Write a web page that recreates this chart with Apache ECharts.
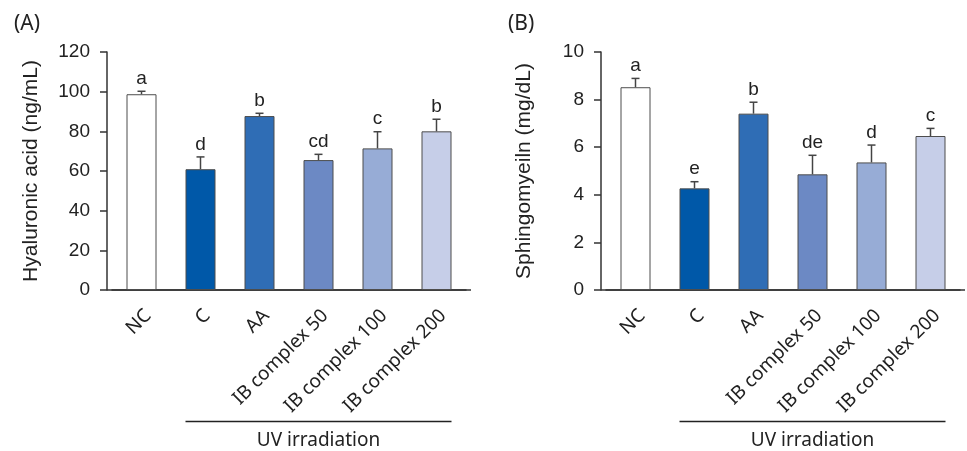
<!DOCTYPE html>
<html>
<head>
<meta charset="utf-8">
<script src="https://cdn.jsdelivr.net/npm/echarts@6/dist/echarts.min.js"></script>
<style>
    html, body { margin: 0; padding: 0; background: #fff; }
    #main { width: 967px; height: 451px; }
</style>
</head>
<body>
<div id="main"></div>
<script>
var categories = ['NC', 'C', 'AA', 'IB complex 50', 'IB complex 100', 'IB complex 200'];
var hyaluronic = [98.7, 60.9, 87.7, 65.5, 71.4, 80.0];
var hyaluronicSd = [1.5, 6.2, 1.4, 2.9, 8.4, 6.1];
var hyaluronicLetters = ['a', 'd', 'b', 'cd', 'c', 'b'];
var sphingo = [8.52, 4.27, 7.41, 4.86, 5.36, 6.47];
var sphingoSd = [0.37, 0.28, 0.48, 0.80, 0.73, 0.32];
var sphingoLetters = ['a', 'e', 'b', 'de', 'd', 'c'];
var barColors = ['#ffffff', '#0058a8', '#2f6db5', '#6c89c4', '#97acd6', '#c6cee8'];
var uvGroup = ['C', 'IB complex 200'];

var axisColor = '#333';
var textColor = '#222';
var numFont = 'Liberation Sans';
var labelFont = 'Noto Sans';
var grids = [
    {left: 112, top: 52, width: 354, height: 238},
    {left: 606, top: 52, width: 354, height: 238}
];
var barW = 30;

var mychart = echarts.init(document.getElementById('main'));

function barData(values) {
    return values.map(function (v, i) {
        return {
            value: v,
            itemStyle: {color: barColors[i]}
        };
    });
}

function errData(values, sd, letters) {
    return values.map(function (v, i) {
        return [i, v, sd[i], letters[i]];
    });
}

function renderErr(params, api) {
    var x = api.value(0);
    var mean = api.value(1);
    var sd = api.value(2);
    var p0 = api.coord([x, mean]);
    var p1 = api.coord([x, mean + sd]);
    return {
        type: 'group',
        children: [
            {
                type: 'line',
                shape: {x1: p0[0], y1: p0[1], x2: p1[0], y2: p1[1]},
                style: {stroke: '#444', lineWidth: 1.5}
            },
            {
                type: 'line',
                shape: {x1: p1[0] - 4, y1: p1[1], x2: p1[0] + 4, y2: p1[1]},
                style: {stroke: '#444', lineWidth: 1.5}
            },
            {
                type: 'text',
                x: p1[0],
                y: p1[1] - 3,
                style: {
                    text: api.value(3),
                    fill: textColor,
                    fontFamily: numFont,
                    fontSize: 19,
                    align: 'center',
                    verticalAlign: 'bottom'
                }
            }
        ]
    };
}

function xAxisOpt(gi) {
    return {
        type: 'category',
        gridIndex: gi,
        data: categories,
        axisLine: {lineStyle: {color: axisColor, width: 1.5}},
        axisTick: {alignWithLabel: true, length: 7, lineStyle: {color: axisColor, width: 1.5}},
        axisLabel: {
            rotate: 45,
            interval: 0,
            margin: 16,
            align: 'right',
            verticalAlign: 'top',
            color: textColor,
            fontFamily: labelFont,
            fontSize: 19
        }
    };
}

function yAxisOpt(gi, name, max, interval, gap) {
    return {
        type: 'value',
        gridIndex: gi,
        min: 0,
        max: max,
        interval: interval,
        offset: 5,
        name: name,
        nameLocation: 'middle',
        nameGap: gap,
        nameTextStyle: {color: textColor, fontFamily: numFont, fontSize: 21},
        axisLine: {show: true, lineStyle: {color: axisColor, width: 1.5}},
        axisTick: {show: true, length: 7, lineStyle: {color: axisColor, width: 1.5}},
        axisLabel: {margin: 17, color: textColor, fontFamily: numFont, fontSize: 19},
        splitLine: {show: false}
    };
}

var option = {
    animation: false,
    backgroundColor: '#fff',
    grid: grids,
    xAxis: [xAxisOpt(0), xAxisOpt(1)],
    yAxis: [
        yAxisOpt(0, 'Hyaluronic acid (ng/mL)', 120, 20, 65),
        yAxisOpt(1, 'Sphingomyeiln (mg/dL)', 10, 2, 66)
    ],
    series: [
        {
            type: 'bar',
            xAxisIndex: 0,
            yAxisIndex: 0,
            barWidth: barW,
            itemStyle: {borderColor: '#4d4d4d', borderWidth: 1},
            data: barData(hyaluronic)
        },
        {
            type: 'custom',
            xAxisIndex: 0,
            yAxisIndex: 0,
            z: 5,
            renderItem: renderErr,
            data: errData(hyaluronic, hyaluronicSd, hyaluronicLetters)
        },
        {
            type: 'bar',
            xAxisIndex: 1,
            yAxisIndex: 1,
            barWidth: barW,
            itemStyle: {borderColor: '#4d4d4d', borderWidth: 1},
            data: barData(sphingo)
        },
        {
            type: 'custom',
            xAxisIndex: 1,
            yAxisIndex: 1,
            z: 5,
            renderItem: renderErr,
            data: errData(sphingo, sphingoSd, sphingoLetters)
        }
    ]
};
mychart.setOption(option);

// extend x axis lines past the bar area, panel tags and UV bracket
var graphics = [];
['(A)', '(B)'].forEach(function (tag, gi) {
    var g = grids[gi];
    var y0 = mychart.convertToPixel({yAxisIndex: gi}, 0);
    graphics.push({
        type: 'line',
        shape: {x1: g.left - 5, y1: y0, x2: g.left + g.width + 5, y2: y0},
        style: {stroke: axisColor, lineWidth: 1.5}
    });
    graphics.push({
        type: 'text',
        left: gi === 0 ? 14 : 508,
        top: 14,
        style: {text: tag, fill: textColor, fontFamily: labelFont, fontSize: 21}
    });
    var xa = mychart.convertToPixel({xAxisIndex: gi}, uvGroup[0]) - barW / 2;
    var xb = mychart.convertToPixel({xAxisIndex: gi}, uvGroup[1]) + barW / 2;
    graphics.push({
        type: 'line',
        shape: {x1: xa, y1: 421.5, x2: xb, y2: 421.5},
        style: {stroke: '#222', lineWidth: 1.5}
    });
    graphics.push({
        type: 'text',
        x: (xa + xb) / 2,
        y: 441,
        style: {
            text: 'UV irradiation',
            fill: textColor,
            fontFamily: labelFont,
            fontSize: 19,
            align: 'center',
            verticalAlign: 'middle'
        }
    });
});
mychart.setOption({graphic: graphics});
</script>
</body>
</html>
